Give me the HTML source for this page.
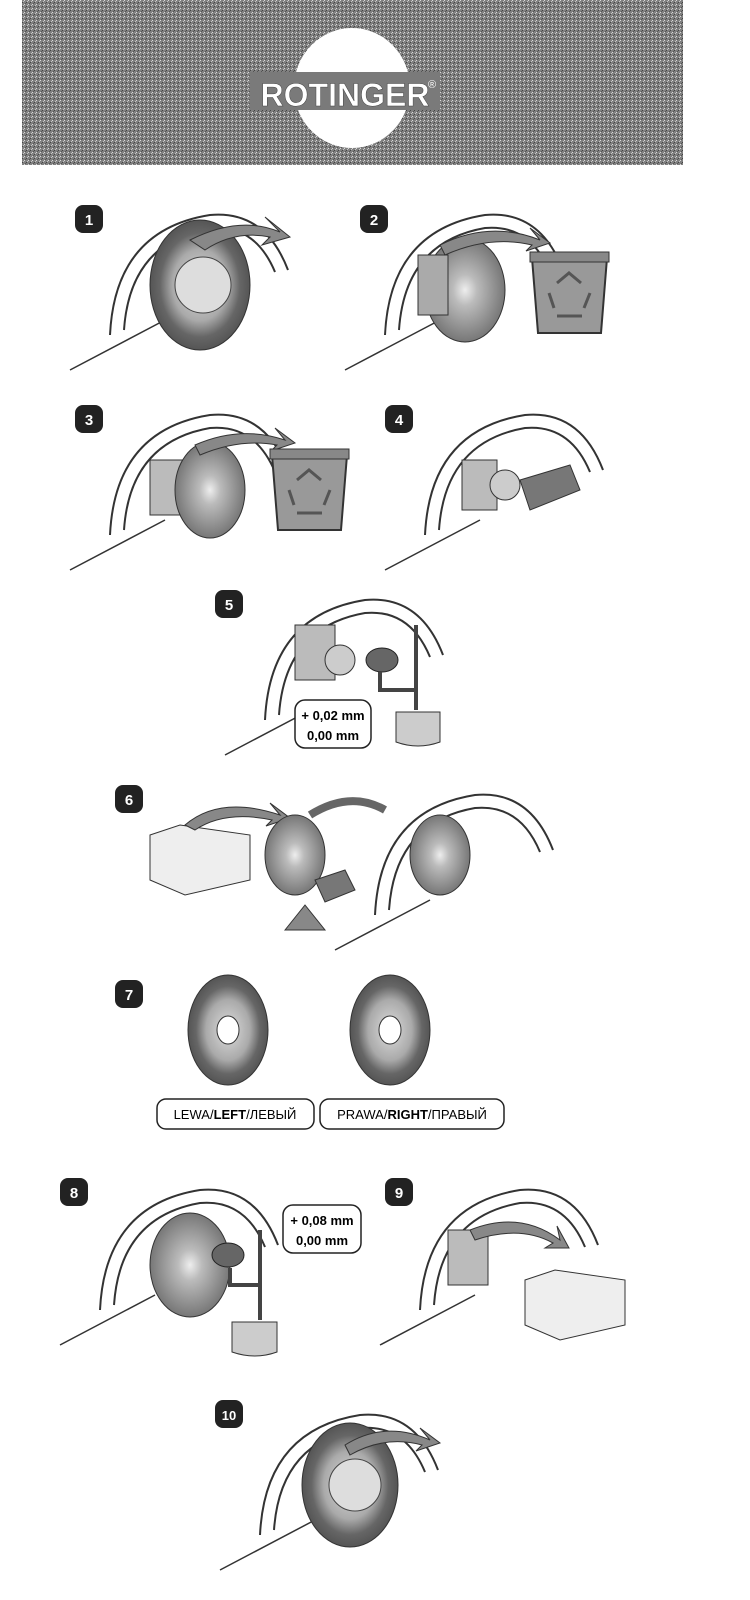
<!DOCTYPE html>
<html><head><meta charset="utf-8"><style>
html,body{margin:0;padding:0;background:#fff;}
svg{display:block}
text{font-family:"Liberation Sans","DejaVu Sans",sans-serif}
</style></head><body>
<svg width="750" height="1600" viewBox="0 0 750 1600" xmlns="http://www.w3.org/2000/svg">
<defs>
<pattern id="n" width="4" height="4" patternUnits="userSpaceOnUse">
<rect width="4" height="4" fill="#808080"/><rect width="1" height="1" fill="#d8d8d8"/><rect x="2" y="2" width="1" height="1" fill="#444"/><rect x="3" y="1" width="1" height="1" fill="#c4c4c4"/><rect x="1" y="3" width="1" height="1" fill="#555"/>
</pattern>
<radialGradient id="d" cx="50%" cy="50%" r="50%"><stop offset="0" stop-color="#eee"/><stop offset=".3" stop-color="#bbb"/><stop offset="1" stop-color="#777"/></radialGradient>
<radialGradient id="t" cx="50%" cy="50%" r="50%"><stop offset="0" stop-color="#ddd"/><stop offset=".55" stop-color="#aaa"/><stop offset=".8" stop-color="#666"/><stop offset="1" stop-color="#555"/></radialGradient>
<g id="arch"><path d="M0 125 Q5 20 100 5 Q155 0 178 60" fill="none" stroke="#333" stroke-width="2"/><path d="M14 120 Q20 32 100 18 Q145 14 165 62" fill="none" stroke="#333" stroke-width="2"/><path d="M-40 160 L55 110" stroke="#333" stroke-width="1.5" fill="none"/></g>
<g id="badge"><rect width="28" height="28" rx="8" fill="#222"/></g>
<g id="bin"><path d="M0 0 h75 l-6 75 h-63 z" fill="#999" stroke="#333" stroke-width="2"/><rect x="-2" y="-6" width="79" height="10" fill="#888" stroke="#333"/><path d="M25 25 l12 -10 l12 10 M22 50 l-5 -15 M52 50 l6 -15 M25 58 h25" stroke="#555" stroke-width="3" fill="none"/></g>
</defs>

<rect x="22" y="0" width="661" height="165" fill="url(#n)"/>
<ellipse cx="352" cy="88" rx="58" ry="60" fill="#fff"/>
<rect x="250" y="72" width="190" height="38" fill="#7a7a7a"/>
<text x="345" y="106" font-size="32" font-weight="bold" fill="#fff" text-anchor="middle" stroke="#444" stroke-width=".5">ROTINGER</text>
<text x="428" y="88" font-size="11" fill="#fff">®</text>

<!-- 1 -->
<use href="#badge" x="75" y="205"/><text x="89" y="225" fill="#fff" font-size="15" font-weight="bold" text-anchor="middle">1</text>
<use href="#arch" x="110" y="210"/>
<ellipse cx="200" cy="285" rx="50" ry="65" fill="url(#t)" stroke="#333"/>
<circle cx="203" cy="285" r="28" fill="#ddd" stroke="#444"/>
<path d="M190 240 Q240 215 280 232 l-15 -15 l25 20 l-28 8 l8 -8 Q235 230 205 250z" fill="#888" stroke="#333"/>

<!-- 2 -->
<use href="#badge" x="360" y="205"/><text x="374" y="225" fill="#fff" font-size="15" font-weight="bold" text-anchor="middle">2</text>
<use href="#arch" x="385" y="210"/>
<ellipse cx="465" cy="290" rx="40" ry="52" fill="url(#d)" stroke="#333"/>
<rect x="418" y="255" width="30" height="60" fill="#aaa" stroke="#333"/>
<path d="M440 245 Q490 220 540 240 l-10 -12 l20 15 l-24 8 l6 -6 Q490 235 445 255z" fill="#888" stroke="#333"/>
<use href="#bin" x="532" y="258"/>

<!-- 3 -->
<use href="#badge" x="75" y="405"/><text x="89" y="425" fill="#fff" font-size="15" font-weight="bold" text-anchor="middle">3</text>
<use href="#arch" x="110" y="410"/>
<rect x="150" y="460" width="40" height="55" fill="#bbb" stroke="#333"/>
<ellipse cx="210" cy="490" rx="35" ry="48" fill="url(#d)" stroke="#333"/>
<path d="M195 445 Q240 425 285 440 l-10 -12 l20 15 l-24 8 l6 -6 Q240 438 200 455z" fill="#888" stroke="#333"/>
<use href="#bin" x="272" y="455"/>

<!-- 4 -->
<use href="#badge" x="385" y="405"/><text x="399" y="425" fill="#fff" font-size="15" font-weight="bold" text-anchor="middle">4</text>
<use href="#arch" x="425" y="410"/>
<rect x="462" y="460" width="35" height="50" fill="#bbb" stroke="#333"/>
<circle cx="505" cy="485" r="15" fill="#ccc" stroke="#333"/>
<path d="M520 480 l50 -15 l10 25 l-50 20z" fill="#777" stroke="#333"/>

<!-- 5 -->
<use href="#badge" x="215" y="590"/><text x="229" y="610" fill="#fff" font-size="15" font-weight="bold" text-anchor="middle">5</text>
<use href="#arch" x="265" y="595"/>
<rect x="295" y="625" width="40" height="55" fill="#bbb" stroke="#333"/>
<circle cx="340" cy="660" r="15" fill="#ccc" stroke="#333"/>
<ellipse cx="382" cy="660" rx="16" ry="12" fill="#666" stroke="#222"/>
<path d="M416 625 V710 M380 672 V690 H416" stroke="#444" stroke-width="4" fill="none"/>
<path d="M396 712 h44 v30 q-22 8 -44 0z" fill="#ccc" stroke="#333"/>
<rect x="295" y="700" width="76" height="48" rx="10" fill="#fff" stroke="#222" stroke-width="1.5"/>
<text x="333" y="720" font-size="13" font-weight="bold" text-anchor="middle">+ 0,02 mm</text>
<text x="333" y="740" font-size="13" font-weight="bold" text-anchor="middle">0,00 mm</text>

<!-- 6 -->
<use href="#badge" x="115" y="785"/><text x="129" y="805" fill="#fff" font-size="15" font-weight="bold" text-anchor="middle">6</text>
<path d="M150 835 l30 -10 l70 10 v45 l-65 15 l-35 -15z" fill="#eee" stroke="#333"/>
<path d="M185 825 Q220 795 280 815 l-10 -12 l20 15 l-24 8 l6 -6 Q225 810 195 830z" fill="#888" stroke="#333"/>
<ellipse cx="295" cy="855" rx="30" ry="40" fill="url(#d)" stroke="#333"/>
<path d="M310 815 Q350 790 385 810" stroke="#666" stroke-width="8" fill="none"/>
<path d="M315 880 l30 -10 l10 20 l-30 12z" fill="#777" stroke="#333"/>
<path d="M285 930 l20 -25 l20 25z" fill="#888" stroke="#333"/>
<use href="#arch" x="375" y="790"/>
<ellipse cx="440" cy="855" rx="30" ry="40" fill="url(#d)" stroke="#333"/>

<!-- 7 -->
<use href="#badge" x="115" y="980"/><text x="129" y="1000" fill="#fff" font-size="15" font-weight="bold" text-anchor="middle">7</text>
<ellipse cx="228" cy="1030" rx="40" ry="55" fill="url(#t)" stroke="#333"/>
<ellipse cx="228" cy="1030" rx="11" ry="14" fill="#fff" stroke="#333"/>
<ellipse cx="390" cy="1030" rx="40" ry="55" fill="url(#t)" stroke="#333"/>
<ellipse cx="390" cy="1030" rx="11" ry="14" fill="#fff" stroke="#333"/>
<rect x="157" y="1099" width="157" height="30" rx="9" fill="#fff" stroke="#222" stroke-width="1.5"/>
<text x="235" y="1119" font-size="13" text-anchor="middle">LEWA/<tspan font-weight="bold">LEFT</tspan>/ЛЕВЫЙ</text>
<rect x="320" y="1099" width="184" height="30" rx="9" fill="#fff" stroke="#222" stroke-width="1.5"/>
<text x="412" y="1119" font-size="13" text-anchor="middle">PRAWA/<tspan font-weight="bold">RIGHT</tspan>/ПРАВЫЙ</text>

<!-- 8 -->
<use href="#badge" x="60" y="1178"/><text x="74" y="1198" fill="#fff" font-size="15" font-weight="bold" text-anchor="middle">8</text>
<use href="#arch" x="100" y="1185"/>
<ellipse cx="190" cy="1265" rx="40" ry="52" fill="url(#d)" stroke="#333"/>
<ellipse cx="228" cy="1255" rx="16" ry="12" fill="#666" stroke="#222"/>
<path d="M260 1230 V1320 M230 1268 V1285 H260" stroke="#444" stroke-width="4" fill="none"/>
<path d="M232 1322 h45 v30 q-22 8 -45 0z" fill="#ccc" stroke="#333"/>
<rect x="283" y="1205" width="78" height="48" rx="10" fill="#fff" stroke="#222" stroke-width="1.5"/>
<text x="322" y="1225" font-size="13" font-weight="bold" text-anchor="middle">+ 0,08 mm</text>
<text x="322" y="1245" font-size="13" font-weight="bold" text-anchor="middle">0,00 mm</text>

<!-- 9 -->
<use href="#badge" x="385" y="1178"/><text x="399" y="1198" fill="#fff" font-size="15" font-weight="bold" text-anchor="middle">9</text>
<use href="#arch" x="420" y="1185"/>
<rect x="448" y="1230" width="40" height="55" fill="#bbb" stroke="#333"/>
<path d="M470 1230 Q520 1210 560 1240 l-3 -14 l12 22 l-24 0 l8 -5 Q520 1225 475 1240z" fill="#888" stroke="#333"/>
<path d="M525 1280 l30 -10 l70 10 v45 l-65 15 l-35 -15z" fill="#eee" stroke="#333"/>

<!-- 10 -->
<use href="#badge" x="215" y="1400"/><text x="229" y="1420" fill="#fff" font-size="13" font-weight="bold" text-anchor="middle">10</text>
<use href="#arch" x="260" y="1410"/>
<ellipse cx="350" cy="1485" rx="48" ry="62" fill="url(#t)" stroke="#333"/>
<circle cx="355" cy="1485" r="26" fill="#ddd" stroke="#444"/>
<path d="M345 1445 Q385 1420 430 1440 l-10 -12 l20 15 l-24 8 l6 -6 Q385 1435 350 1455z" fill="#888" stroke="#333"/>
</svg>
</body></html>
